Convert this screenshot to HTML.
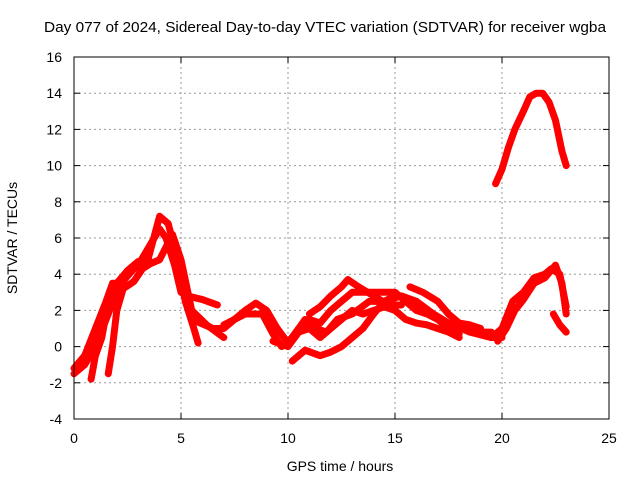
<!DOCTYPE html>
<html><head><meta charset="utf-8"><style>
body{margin:0;background:#fff}
svg text{font-family:"Liberation Sans",sans-serif;font-size:14px;fill:#000}
</style></head><body>
<svg width="640" height="480" id="c">
<rect width="640" height="480" fill="#fff"/>
<text x="325" y="32" text-anchor="middle" textLength="562" lengthAdjust="spacingAndGlyphs" style="font-size:15px">Day 077 of 2024, Sidereal Day-to-day VTEC variation (SDTVAR) for receiver wgba</text>
<text x="340" y="471" text-anchor="middle">GPS time / hours</text>
<text transform="translate(17,238) rotate(-90)" text-anchor="middle">SDTVAR / TECUs</text>
<g id="grid"></g><g id="series"></g><g id="axes"></g>
</svg>
<script>
const xTicks=[0,5,10,15,20,25];
const yTicks=[-4,-2,0,2,4,6,8,10,12,14,16];
const s1=[[0,-1.5],[0.5,-1],[1,0],[1.5,1.5],[2,3],[2.5,4],[3,4.5],[3.5,5.5],[4,6.5],[4.3,6],[4.7,4.5],[5,3],[5.3,2.8],[6,2.6],[6.7,2.3]];
const s2=[[0,-1.2],[0.5,-0.5],[1,1],[1.5,2.5],[1.8,3.5],[2.2,3.5],[2.8,4.3],[3.5,5],[4,7.2],[4.4,6.8],[4.8,5],[5.2,2.5],[5.6,1],[5.8,0.2]];
const s3=[[0.8,-1.8],[1,-0.5],[1.3,0.5],[1.5,1.8],[2,3.5],[2.5,4.2],[3,4.7],[3.5,4.8]];
const s4=[[1.6,-1.5],[1.8,0],[2,2],[2.3,3.2],[2.8,3.6],[3.2,4.3],[3.6,4.6],[4,4.8],[4.3,5.5],[4.6,6.2],[4.8,5.5],[5,4.8],[5.5,2],[6.2,1.2],[7,0.5]];
const s5=[[5.5,1.5],[6.5,1],[7,1],[7.5,1.5],[8,2],[8.5,2.4],[9,2],[9.5,1],[10,0.2],[10.5,1],[11,1.5],[11.5,1.3],[12,2],[12.5,2.5],[13,3],[13.5,3],[14,3],[14.5,3],[15,3],[15.5,2.5],[16,2],[16.5,1.8],[17,1.5],[17.5,1.2],[18,1],[18.5,1],[19,0.8],[19.5,0.8]];
const s6=[[7,1.2],[8,1.8],[8.8,1.8],[9.3,0.7],[9.7,0],[10.2,0.5],[10.8,1.5],[11.3,1],[11.8,0.8],[12.3,1.5],[13,1.8],[13.8,2.5],[14.5,2.5],[15.3,2.8],[16,2.5],[16.8,1.8],[17.5,1.3],[18.5,0.8],[19.5,0.5],[20,0.5]];
const s7=[[10.2,-0.8],[10.8,-0.2],[11.5,-0.5],[12,-0.3],[12.5,0],[13,0.5],[13.5,1],[14,1.8],[14.5,2.5],[15,2.8],[15.5,2.7],[16,2.2],[16.5,2],[17,1.5],[17.5,1],[18,0.7]];
const s8=[[11,1.8],[11.5,2.2],[12,2.8],[12.5,3.3],[12.8,3.7]];
const s9=[[12.8,3.7],[13.3,3.3],[14,2.8],[14.7,2.3],[15.3,2.3]];
const s10=[[9.3,0.3],[10,0],[10.5,0.8],[11,1],[11.5,0.5],[12,1],[12.5,1.5],[13,2],[13.5,1.8],[14,2],[14.5,2.2],[15,2],[15.5,1.5],[16,1.3],[16.5,1.2],[17,1],[17.5,0.8],[18,0.5]];
const s11=[[15.7,3.3],[16.3,3],[17,2.5],[17.5,1.8],[18,1.3],[18.5,1.2],[19,1]];
const s12=[[19.5,0.5],[20,1],[20.5,2.5],[21,3],[21.5,3.8],[22,4],[22.3,4.3],[22.7,4],[23,2.2]];
const s13=[[19.8,0.3],[20.2,1],[20.6,2],[21,2.6],[21.5,3.5],[22,3.8],[22.5,4.5],[22.8,3.5],[23,1.8]];
const s14=[[22.4,1.8],[22.7,1.2],[23,0.8]];
const s15=[[19.7,9],[20,9.8],[20.3,11],[20.6,12],[21,13],[21.3,13.8],[21.6,14],[21.9,14],[22.2,13.5],[22.5,12.5],[22.8,10.8],[23,10]];
const allSeries=[s1,s2,s3,s4,s5,s6,s7,s8,s9,s10,s11,s12,s13,s14,s15];
const L=74,R=609,T=57,B=419;
const X=v=>L+(v-0)/(25-0)*(R-L);
const Y=v=>B-(v+4)/(16+4)*(B-T);
const NS="http://www.w3.org/2000/svg";
function mk(t,a,p){const e=document.createElementNS(NS,t);for(const k in a)e.setAttribute(k,a[k]);p.appendChild(e);return e;}
const g=document.getElementById('grid'),ax=document.getElementById('axes'),sg=document.getElementById('series');
xTicks.forEach(v=>{
 if(v>0&&v<25){const l=mk('line',{x1:X(v),x2:X(v),y1:T,y2:B,stroke:'#999','stroke-dasharray':'2,3'},g);
 
 }
 mk('line',{x1:X(v),x2:X(v),y1:B,y2:B-6,stroke:'#000'},ax);
 mk('line',{x1:X(v),x2:X(v),y1:T,y2:T+6,stroke:'#000'},ax);
 const t=mk('text',{x:X(v),y:B+24,'text-anchor':'middle'},ax);t.textContent=v;
 
 
});
yTicks.forEach(v=>{
 if(v>-4&&v<16){const l=mk('line',{x1:L,x2:R,y1:Y(v),y2:Y(v),stroke:'#999','stroke-dasharray':'2,3'},g);
 
 }
 mk('line',{x1:L,x2:L+6,y1:Y(v),y2:Y(v),stroke:'#000'},ax);
 mk('line',{x1:R,x2:R-6,y1:Y(v),y2:Y(v),stroke:'#000'},ax);
 const t=mk('text',{x:L-12,y:Y(v)+5,'text-anchor':'end'},ax);t.textContent=v;
 
 
});
const fr=mk('rect',{x:L,y:T,width:R-L,height:B-T,fill:'none',stroke:'#000'},ax);


allSeries.forEach((s,i)=>{
 const p=mk('polyline',{points:s.map(d=>X(d[0])+','+Y(d[1])).join(' '),fill:'none',stroke:'#f00','stroke-width':7,'stroke-linejoin':'round','stroke-linecap':'round'},sg);
 
 
});
</script>
</body></html>
